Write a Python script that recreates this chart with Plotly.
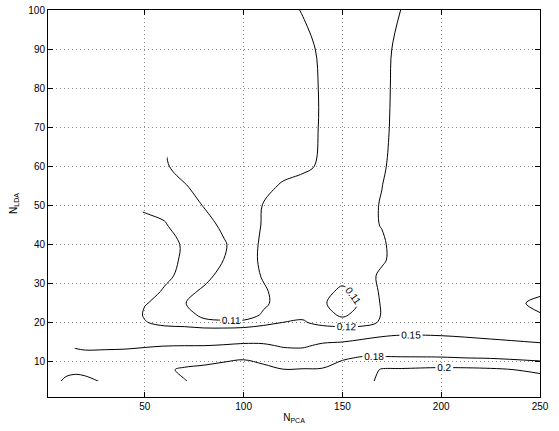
import plotly.graph_objects as go

N = None
# N_PCA grid (columns) and N_LDA grid (rows)
n_pca = [5, 10, 15, 20, 30, 40, 50, 60, 70, 80, 90, 100, 110, 120, 130, 140, 150, 160, 170, 180, 200, 225, 250]
n_lda = [5, 8, 11, 14, 17, 20, 22, 25, 28, 32, 36, 40, 45, 50, 55, 60, 70, 80, 90, 100]

# error-rate values per N_LDA row (None where N_LDA > N_PCA)
z_05 = [0.17, 0.19, 0.195, 0.19, 0.175, 0.17, 0.172, 0.176, 0.179, 0.186, 0.187, 0.188, 0.189, 0.19, 0.192, 0.194, 0.195, 0.191, 0.206, 0.207, 0.208, 0.207, 0.206]
z_08 = [N, 0.165, 0.17, 0.168, 0.166, 0.164, 0.166, 0.176, 0.1835, 0.185, 0.187, 0.188, 0.187, 0.1805, 0.181, 0.1815, 0.1875, 0.19, 0.2015, 0.202, 0.204, 0.2025, 0.197]
z_11 = [N, N, 0.158, 0.158, 0.157, 0.156, 0.158, 0.162, 0.166, 0.172, 0.176, 0.1785, 0.172, 0.168, 0.168, 0.17, 0.178, 0.1815, 0.182, 0.1815, 0.181, 0.179, 0.174]
z_14 = [N, N, 0.148, 0.146, 0.147, 0.148, 0.149, 0.1502, 0.151, 0.151, 0.153, 0.156, 0.155, 0.148, 0.147, 0.156, 0.16, 0.168, 0.165, 0.166, 0.167, 0.1625, 0.155]
z_17 = [N, N, N, 0.138, 0.138, 0.137, 0.1335, 0.1255, 0.127, 0.128, 0.129, 0.13, 0.1315, 0.131, 0.13, 0.1325, 0.132, 0.137, 0.1465, 0.149, 0.148, 0.142, 0.138]
z_20 = [N, N, N, 0.131, 0.129, 0.1265, 0.1205, 0.118, 0.1165, 0.1135, 0.1125, 0.113, 0.1165, 0.1203, 0.1215, 0.116, 0.114, 0.113, 0.1225, 0.1265, 0.128, 0.127, 0.125]
z_22 = [N, N, N, N, 0.129, 0.126, 0.1192, 0.1175, 0.115, 0.107, 0.1045, 0.104, 0.1115, 0.116, 0.1175, 0.1135, 0.1085, 0.1135, 0.1205, 0.125, 0.126, 0.125, 0.1205]
z_25 = [N, N, N, N, 0.129, 0.126, 0.1203, 0.1185, 0.1105, 0.105, 0.1035, 0.104, 0.108, 0.1145, 0.1165, 0.1115, 0.1045, 0.1115, 0.121, 0.125, 0.126, 0.125, 0.118]
z_28 = [N, N, N, N, 0.128, 0.126, 0.123, 0.1192, 0.1135, 0.108, 0.104, 0.104, 0.1085, 0.1145, 0.117, 0.113, 0.108, 0.1135, 0.1215, 0.125, 0.126, 0.125, 0.1215]
z_32 = [N, N, N, N, N, 0.127, 0.125, 0.1215, 0.1182, 0.1135, 0.106, 0.104, 0.111, 0.1145, 0.116, 0.1155, 0.1135, 0.1165, 0.1215, 0.125, 0.127, 0.127, 0.1245]
z_36 = [N, N, N, N, N, 0.127, 0.126, 0.1235, 0.1185, 0.114, 0.1099, 0.104, 0.1125, 0.1155, 0.117, 0.117, 0.1165, 0.117, 0.119, 0.1235, 0.126, 0.127, 0.127]
z_40 = [N, N, N, N, N, 0.127, 0.126, 0.124, 0.1188, 0.1155, 0.111, 0.1045, 0.112, 0.1155, 0.1165, 0.117, 0.117, 0.1175, 0.119, 0.1235, 0.126, 0.127, 0.127]
z_45 = [N, N, N, N, N, N, 0.1225, 0.1205, 0.117, 0.1135, 0.108, 0.1045, 0.1108, 0.1145, 0.1155, 0.1165, 0.117, 0.118, 0.1203, 0.124, 0.126, 0.127, 0.127]
z_50 = [N, N, N, N, N, N, 0.1185, 0.118, 0.1145, 0.1095, 0.105, 0.1045, 0.1105, 0.1135, 0.115, 0.116, 0.117, 0.118, 0.1204, 0.124, 0.126, 0.127, 0.127]
z_55 = [N, N, N, N, N, N, N, 0.1145, 0.1108, 0.106, 0.1045, 0.104, 0.1065, 0.1115, 0.1135, 0.115, 0.1165, 0.1175, 0.1199, 0.124, 0.126, 0.127, 0.127]
z_60 = [N, N, N, N, N, N, N, 0.1113, 0.106, 0.105, 0.104, 0.104, 0.1045, 0.1055, 0.108, 0.1115, 0.1145, 0.1165, 0.119, 0.1235, 0.126, 0.127, 0.127]
z_70 = [N, N, N, N, N, N, N, N, 0.105, 0.1045, 0.104, 0.104, 0.104, 0.1045, 0.1065, 0.111, 0.1145, 0.116, 0.1185, 0.1225, 0.125, 0.127, 0.127]
z_80 = [N, N, N, N, N, N, N, N, N, 0.104, 0.104, 0.104, 0.104, 0.1045, 0.1065, 0.111, 0.1145, 0.116, 0.1183, 0.1223, 0.125, 0.127, 0.127]
z_90 = [N, N, N, N, N, N, N, N, N, N, 0.104, 0.104, 0.1045, 0.105, 0.1075, 0.1115, 0.1145, 0.1155, 0.118, 0.122, 0.125, 0.127, 0.127]
z_100 = [N, N, N, N, N, N, N, N, N, N, N, 0.104, 0.105, 0.1075, 0.1105, 0.1125, 0.1145, 0.1155, 0.1165, 0.1202, 0.124, 0.127, 0.127]

levels = [0.11, 0.12, 0.15, 0.18, 0.2]
x_ticks = [50, 100, 150, 200, 250]
y_ticks = [10, 20, 30, 40, 50, 60, 70, 80, 90, 100]

Z = [z_05, z_08, z_11, z_14, z_17, z_20, z_22, z_25, z_28, z_32, z_36, z_40,
     z_45, z_50, z_55, z_60, z_70, z_80, z_90, z_100]

FONT = "Liberation Sans, Arial, sans-serif"

fig = go.Figure()
for lev in levels:
    fig.add_trace(go.Contour(
        x=n_pca, y=n_lda, z=Z,
        autocontour=False,
        contours=dict(start=lev, end=lev, size=1, coloring="none",
                      showlabels=True, labelformat=".2~g",
                      labelfont=dict(family=FONT, size=10, color="black")),
        line=dict(color="black", width=1, smoothing=1),
        connectgaps=False,
        showscale=False,
        hoverinfo="skip",
    ))

axis_common = dict(
    ticks="inside", ticklen=5, tickcolor="black",
    showline=True, linecolor="black", linewidth=1, mirror="ticks",
    showgrid=True, gridcolor="#8a8a8a", gridwidth=1, griddash="1px,3px",
    zeroline=False, automargin=False,
    tickfont=dict(family=FONT, size=10, color="black"),
)

fig.update_layout(
    width=559, height=431,
    margin=dict(l=48, r=19, t=10, b=34),
    paper_bgcolor="white", plot_bgcolor="white",
    font=dict(family=FONT, size=10, color="black"),
    showlegend=False,
    xaxis=dict(range=[1, 250], tickvals=x_ticks,
               title=dict(text="N<sub>PCA</sub>", font=dict(family=FONT, size=10), standoff=2),
               **axis_common),
    yaxis=dict(range=[1, 100], tickvals=y_ticks,
               title=dict(text="N<sub>LDA</sub>", font=dict(family=FONT, size=10), standoff=8),
               **axis_common),
)

fig.write_html("out.html", config={"displayModeBar": False},
               post_script="document.body.style.margin='0';")
